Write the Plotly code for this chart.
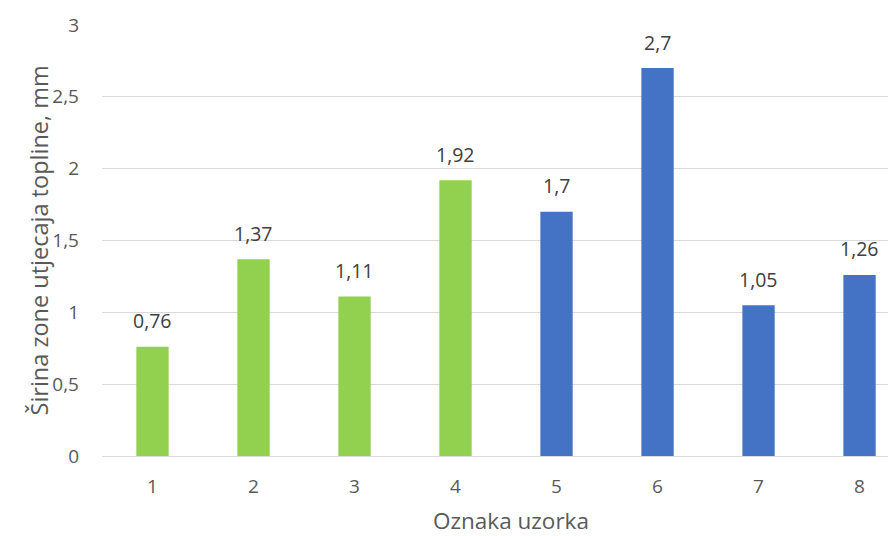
import plotly.graph_objects as go

categories = [1, 2, 3, 4, 5, 6, 7, 8]
values = [0.76, 1.37, 1.11, 1.92, 1.7, 2.7, 1.05, 1.26]
labels = ["0,76", "1,37", "1,11", "1,92", "1,7", "2,7", "1,05", "1,26"]
colors = ["#92D050"] * 4 + ["#4472C4"] * 4

FONT = "Open Sans"

fig = go.Figure(go.Bar(
    x=categories, y=values, width=0.32,
    marker=dict(color=colors, line=dict(width=0)),
    hoverinfo="skip",
))

annotations = []
for c, v, t in zip(categories, values, labels):
    annotations.append(dict(
        x=c, y=v, xref="x", yref="y", text=t, showarrow=False,
        xanchor="center", yanchor="middle", yshift=26,
        font=dict(family=FONT, size=19.5, color="#404040"),
    ))
# axis titles
annotations.append(dict(
    x=0, y=0.5, xref="paper", yref="paper", text="Širina zone utjecaja topline, mm",
    showarrow=False, textangle=-90, xanchor="center", yanchor="middle", xshift=-64,
    font=dict(family=FONT, size=23.5, color="#595959"),
))
annotations.append(dict(
    x=0.5, y=0, xref="paper", yref="paper", text="Oznaka uzorka",
    showarrow=False, xanchor="center", yanchor="middle", xshift=12, yshift=-64,
    borderpad=0,
    font=dict(family=FONT, size=22.5, color="#595959"),
))

fig.update_layout(
    width=888, height=528,
    margin=dict(l=94, r=0, t=17, b=80, autoexpand=False),
    plot_bgcolor="white", paper_bgcolor="white",
    separators=",.",
    showlegend=False,
    font=dict(family=FONT, color="#595959"),
    annotations=annotations,
    xaxis=dict(
        range=[0.5, 8.361], tickvals=categories, ticktext=[str(c) for c in categories],
        tickfont=dict(size=19, color="#595959"), showgrid=False, zeroline=False,
        showline=False, ticks="", ticklabelstandoff=17,
    ),
    yaxis=dict(
        range=[0, 3], dtick=0.5, tickfont=dict(size=19, color="#595959"),
        showgrid=True, gridcolor="#D9D9D9", gridwidth=1.3,
        zeroline=True, zerolinecolor="#D9D9D9", zerolinewidth=1.3,
        ticks="", ticklabelstandoff=22,
    ),
)

fig.write_html("out.html")
